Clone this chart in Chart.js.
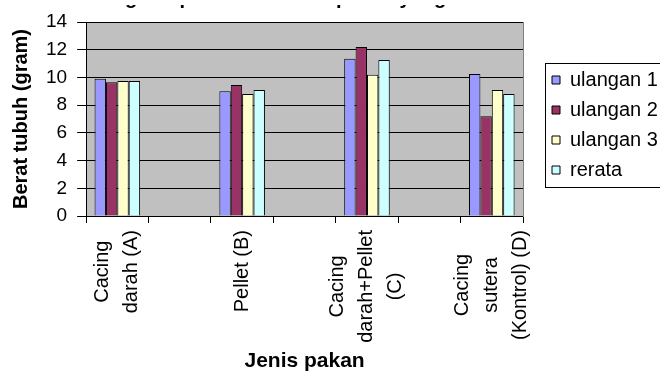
<!DOCTYPE html>
<html>
<head>
<meta charset="utf-8">
<script src="https://cdn.jsdelivr.net/npm/chart.js@4"></script>
<style>
  html, body { margin: 0; padding: 0; background: #fff; }
  #wrap { width: 660px; height: 374px; position: relative; overflow: hidden; }
</style>
</head>
<body>
<div id="wrap"><canvas id="chart" width="660" height="374"></canvas></div>
<script>
// categories (empty slots keep the wide gaps between groups)
const categories = [
    ['Cacing', 'darah (A)'], '',
    ['Pellet (B)'], '',
    ['Cacing', 'darah+Pellet', '(C)'], '',
    ['Cacing', 'sutera', '(Kontrol) (D)']
];

// series values (gram)
const ulangan1 = [9.9, null, 9.0, null, 11.35, null, 10.25];
const ulangan2 = [9.65, null, 9.45, null, 12.2, null, 7.2];
const ulangan3 = [9.75, null, 8.8, null, 10.2, null, 9.1];
const rerata = [9.75, null, 9.1, null, 11.25, null, 8.8];

const seriesNames = ['ulangan 1', 'ulangan 2', 'ulangan 3', 'rerata'];
const seriesColors = ['#9999FF', '#993366', '#FFFFCC', '#CCFFFF'];

// y ticks
const yMin = 0;
const yMax = 14;
const yStep = 2;

const titleText = 'Histogram pertumbuhan di pakan yang berbeda';
const fontFamily = '"Liberation Sans", Arial, sans-serif';

//..grey plot area
const plotBackground = {
    id: 'plotBackground',
    beforeDraw(chart) {
        const { ctx, chartArea } = chart;
        ctx.save();
        ctx.fillStyle = '#C0C0C0';
        ctx.fillRect(chartArea.left, chartArea.top, chartArea.right - chartArea.left, chartArea.bottom - chartArea.top);
        ctx.restore();
    }
};

//..category labels, rotated with centred lines
const xLabels = {
    id: 'xLabels',
    afterDraw(chart) {
        const scale = chart.scales.x;
        const ctx = chart.ctx;
        ctx.save();
        ctx.font = '20px ' + fontFamily;
        ctx.fillStyle = '#000';
        ctx.textAlign = 'center';
        ctx.textBaseline = 'middle';
        categories.forEach((label, i) => {
            const lines = Array.isArray(label) ? label : [label];
            if (!lines[0]) {
                return;
            }
            const maxW = Math.max(...lines.map(l => ctx.measureText(l).width));
            const x = scale.getPixelForTick(i);
            const yc = scale.top + 14 + maxW / 2;
            ctx.save();
            ctx.translate(x, yc);
            ctx.rotate(-Math.PI / 2);
            lines.forEach((line, j) => {
                ctx.fillText(line, 0, (j - (lines.length - 1) / 2) * 29);
            });
            ctx.restore();
        });
        ctx.restore();
    }
};

//..legend frame and the clipped title
const extras = {
    id: 'extras',
    afterDraw(chart) {
        const { ctx } = chart;
        const boxes = chart.legend.legendHitBoxes;
        if (boxes && boxes.length) {
            const last = boxes[boxes.length - 1];
            const top = Math.round(boxes[0].top) - 7;
            const bottom = Math.round(last.top + last.height) + 7;
            ctx.save();
            ctx.strokeStyle = '#000';
            ctx.lineWidth = 1;
            ctx.strokeRect(chart.legend.left + 3.5, top + 0.5, 130, bottom - top);
            ctx.restore();
        }
        ctx.save();
        ctx.beginPath();
        ctx.rect(0, 5, chart.width, 8);
        ctx.clip();
        ctx.fillStyle = '#000';
        ctx.font = 'bold 20px ' + fontFamily;
        ctx.textBaseline = 'alphabetic';
        ctx.fillText(titleText, 75, 4);
        ctx.restore();
    }
};

const datasets = [ulangan1, ulangan2, ulangan3, rerata].map((values, i) => ({
    label: seriesNames[i],
    data: values,
    backgroundColor: seriesColors[i],
    borderColor: '#000',
    borderWidth: 1,
    categoryPercentage: 0.73,
    barPercentage: 1.0
}));

new Chart(document.getElementById('chart'), {
    type: 'bar',
    data: { labels: categories, datasets: datasets },
    options: {
        responsive: false,
        animation: false,
        layout: { padding: { top: 22, left: 9, right: 0, bottom: 0 } },
        scales: {
            x: {
                grid: { display: true, offset: true, drawOnChartArea: false, tickLength: 7, color: '#000' },
                border: { color: '#000' },
                ticks: { display: false, autoSkip: false },
                title: {
                    display: true,
                    text: 'Jenis pakan',
                    color: '#000',
                    padding: { top: 0, bottom: 0 },
                    font: { family: fontFamily, size: 21, weight: 'bold' }
                },
                afterFit(scale) { scale.height = 158; }
            },
            y: {
                min: yMin,
                max: yMax,
                grid: { color: '#000', tickLength: 9 },
                border: { color: '#000' },
                ticks: {
                    stepSize: yStep,
                    color: '#000',
                    padding: 10,
                    font: { family: fontFamily, size: 19 }
                },
                title: {
                    display: true,
                    text: 'Berat tubuh (gram)',
                    color: '#000',
                    padding: { top: 0, bottom: 3 },
                    font: { family: fontFamily, size: 20, weight: 'bold' }
                }
            },
            yRight: {
                position: 'right',
                grid: { display: false },
                ticks: { display: false },
                border: { display: true, color: '#808080' },
                afterFit(scale) { scale.width = 19; }
            }
        },
        plugins: {
            legend: {
                position: 'right',
                fullSize: false,
                maxWidth: 118,
                title: { display: true, text: '', padding: 0, font: { size: 10 } },
                labels: {
                    boxWidth: 8,
                    boxHeight: 8,
                    padding: 10,
                    color: '#000',
                    font: { family: fontFamily, size: 20 }
                }
            },
            tooltip: { enabled: false }
        }
    },
    plugins: [plotBackground, xLabels, extras]
});
</script>
</body>
</html>
